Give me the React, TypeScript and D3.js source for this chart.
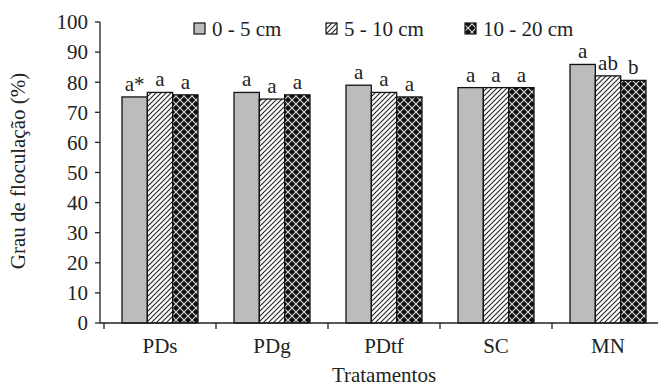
import React from 'react';
import * as d3 from 'd3';

const categories = ['PDs', 'PDg', 'PDtf', 'SC', 'MN'];
const series = ['0 - 5 cm', '5 - 10 cm', '10 - 20 cm'];
const values0to5 = [75.1, 76.6, 79.0, 78.2, 85.9];
const values5to10 = [76.6, 74.4, 76.6, 78.2, 82.1];
const values10to20 = [75.8, 75.8, 75.1, 78.2, 80.6];
const letters0to5 = ['a*', 'a', 'a', 'a', 'a'];
const letters5to10 = ['a', 'a', 'a', 'a', 'ab'];
const letters10to20 = ['a', 'a', 'a', 'a', 'b'];
const yTicks = [0, 10, 20, 30, 40, 50, 60, 70, 80, 90, 100];

const width = 658;
const height = 389;
const font = "'Liberation Serif', 'DejaVu Serif', 'Noto Serif', serif";
const fs = 21;

const App = () => {
  const allValues = [values0to5, values5to10, values10to20];
  const allLetters = [letters0to5, letters5to10, letters10to20];
  const fills = ['#bcbcbf', 'url(#hatch)', 'url(#cross)'];

  // plot area runs past the right edge of the picture (cropped)
  const x0 = d3.scaleBand().domain(categories).range([104, 664]);
  const x1 = d3.scaleBand().domain(series).range([18, 94]);
  const y = d3.scaleLinear().domain([0, 100]).range([323, 22]);

  const legendX = [194, 326, 465];
  const txt = { fontFamily: font, fontSize: fs, fill: '#222' };

  return (
    <svg width={width} height={height}
         style={{ position: 'absolute', left: 0, top: 0, background: '#fff', fontFamily: font }}>
      <defs>
        <pattern id="hatch" patternUnits="userSpaceOnUse" width="5" height="5">
          <rect width="5" height="5" fill="#fff" />
          <path d="M-1,1 l2,-2 M0,5 l5,-5 M4,6 l2,-2" stroke="#222" strokeWidth="1.1" />
        </pattern>
        <pattern id="cross" patternUnits="userSpaceOnUse" width="8" height="8">
          <rect width="8" height="8" fill="#111" />
          <path d="M0,0 L8,8 M8,0 L0,8" stroke="#ddd" strokeWidth="1.1" />
        </pattern>
      </defs>

      {/* bars */}
      {categories.map((c, i) => (
        <g key={c} transform={`translate(${x0(c)},0)`}>
          {series.map((s, j) => {
            const v = allValues[j][i];
            return (
              <g key={s}>
                <rect x={x1(s)} y={y(v)} width={x1.bandwidth()} height={y(0) - y(v)}
                      fill={fills[j]} stroke="#111" strokeWidth="1.3" />
                <text x={(x1(s) as number) + x1.bandwidth() / 2} y={y(v) - 6}
                      textAnchor="middle" style={txt}>
                  {allLetters[j][i]}
                </text>
              </g>
            );
          })}
        </g>
      ))}

      {/* y axis */}
      <line x1={100} x2={100} y1={y(100)} y2={y(0)} stroke="#222" strokeWidth="1.3" />
      {yTicks.map(t => (
        <g key={t}>
          <line x1={95} x2={100} y1={y(t)} y2={y(t)} stroke="#222" strokeWidth="1.3" />
          <text x={88} y={y(t)} dy="0.35em" textAnchor="end" style={txt}>{t}</text>
        </g>
      ))}

      {/* x axis */}
      <line x1={100} x2={658} y1={y(0)} y2={y(0)} stroke="#222" strokeWidth="1.3" />
      {categories.map(c => (
        <line key={c} x1={x0(c)} x2={x0(c)} y1={y(0)} y2={y(0) + 6} stroke="#222" strokeWidth="1.3" />
      ))}
      {categories.map(c => (
        <text key={c} x={(x0(c) as number) + x0.bandwidth() / 2} y={353}
              textAnchor="middle" style={txt}>{c}</text>
      ))}

      <text x={384} y={382} textAnchor="middle" style={txt}>Tratamentos</text>
      <text transform="translate(25,171) rotate(-90)" textAnchor="middle" style={txt}>
        Grau de floculação (%)
      </text>

      {/* legend */}
      {series.map((s, j) => (
        <g key={s}>
          <rect x={legendX[j]} y={23} width={11} height={11} fill={fills[j]} stroke="#111" strokeWidth="1.2" />
          <text x={legendX[j] + 18} y={36} style={txt}>{s}</text>
        </g>
      ))}
    </svg>
  );
};

export default App;
